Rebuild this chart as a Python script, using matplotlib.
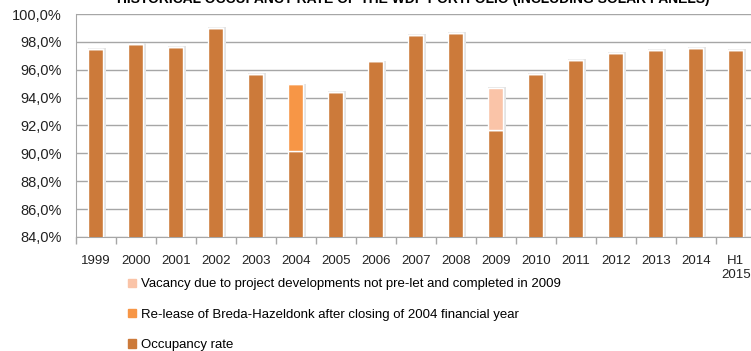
import numpy as np
import matplotlib.pyplot as plt
from matplotlib.patches import Patch
from matplotlib.ticker import FuncFormatter, MultipleLocator

plt.rcParams['font.family'] = ['Liberation Sans', 'DejaVu Sans']

# ---- data (occupancy in %) ----
years = ['1999', '2000', '2001', '2002', '2003', '2004', '2005', '2006', '2007',
         '2008', '2009', '2010', '2011', '2012', '2013', '2014', 'H1\n2015']
occupancy = [97.5, 97.85, 97.65, 99.0, 95.7, 90.2, 94.4, 96.6, 98.5,
             98.65, 91.65, 95.7, 96.7, 97.2, 97.4, 97.55, 97.45]
release_breda = [0, 0, 0, 0, 0, 4.75, 0, 0, 0, 0, 0, 0, 0, 0, 0, 0, 0]
vacancy_dev = [0, 0, 0, 0, 0, 0, 0, 0, 0, 0, 3.05, 0, 0, 0, 0, 0, 0]

lab_vac = 'Vacancy due to project developments not pre-let and completed in 2009'
lab_rel = 'Re-lease of Breda-Hazeldonk after closing of 2004 financial year'
lab_occ = 'Occupancy rate'

c_occ = '#CC7A3A'
c_rel = '#F79646'
c_vac = '#FAC4A8'

fig = plt.figure(figsize=(7.51, 3.51), dpi=100)
ax = fig.add_axes([0.101, 0.325, 0.9055, 0.635])

x = np.arange(len(years))
occ = np.array(occupancy)
rel = np.array(release_breda)
vac = np.array(vacancy_dev)
w = 0.38

# soft shadow behind each column
tot = occ + rel + vac
ax.bar(x + 0.03, tot + 0.06, width=w + 0.06, color='#E4E4E4', zorder=2)
ax.bar(x, occ, width=w, color=c_occ, edgecolor='white', linewidth=1, zorder=3)
ax.bar(x, rel, bottom=occ, width=w, color=c_rel, edgecolor='white', linewidth=1, zorder=3)
ax.bar(x, vac, bottom=occ + rel, width=w, color=c_vac, edgecolor='white', linewidth=1, zorder=3)

ax.set_ylim(84, 100)
ax.set_xlim(-0.5, len(years) - 0.5)
ax.yaxis.set_major_locator(MultipleLocator(2))
ax.yaxis.set_major_formatter(FuncFormatter(lambda v, p: f'{v:.1f}%'.replace('.', ',')))
ax.grid(axis='y', color='#A6A6A6', linewidth=1, zorder=0)
ax.set_axisbelow(True)

ax.set_xticks(x)
ax.set_xticklabels(years)
ax.set_xticks(np.arange(len(years) + 1) - 0.5, minor=True)
ax.tick_params(axis='x', which='major', length=0, pad=13, labelsize=9.5, colors='#222222')
ax.tick_params(axis='x', which='minor', length=5, color='#A6A6A6', width=1)
ax.tick_params(axis='y', length=0, pad=10, labelsize=10.5, colors='#222222')

for s in ['top', 'right']:
    ax.spines[s].set_visible(False)
for s in ['left', 'bottom']:
    ax.spines[s].set_color('#A6A6A6')

fig.text(0.55, 0.982, 'HISTORICAL OCCUPANCY RATE OF THE WDP PORTFOLIO (INCLUDING SOLAR PANELS)',
         ha='center', va='bottom', fontsize=10, fontweight='bold')

handles = [Patch(color=c_vac), Patch(color=c_rel), Patch(color=c_occ)]
fig.legend(handles, [lab_vac, lab_rel, lab_occ], loc='upper left',
           bbox_to_anchor=(0.17, 0.207), frameon=False, fontsize=9.5,
           handlelength=0.6, handleheight=0.6, handletextpad=0.4,
           labelspacing=1.4, borderaxespad=0, borderpad=0)

fig.savefig('out.png', dpi=100)
